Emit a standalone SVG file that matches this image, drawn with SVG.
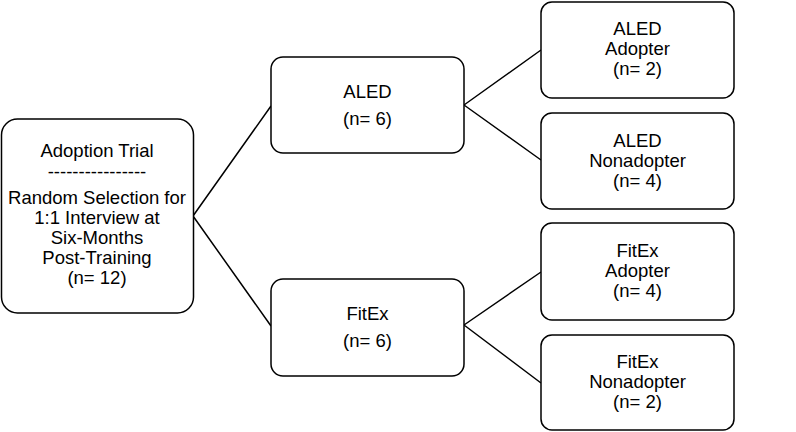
<svg xmlns="http://www.w3.org/2000/svg" width="796" height="432" viewBox="0 0 796 432">
<style>
.box{fill:#fff;stroke:#000;stroke-width:1.5}
.t{font-family:"Liberation Sans",Arial,sans-serif;font-size:18.5px;fill:#000;text-anchor:middle}
.c{fill:none;stroke:#000;stroke-width:1.5}
</style>
<rect width="796" height="432" fill="#fff"/>
<g id="connectors">
<path class="c" d="M193,216 L271,106 M193,216 L271,326"/>
<path class="c" d="M464,105 L541,50 M464,105 L541,160"/>
<path class="c" d="M464,325 L541,272 M464,325 L541,383"/>
</g>
<g id="root">
<rect class="box" x="1.5" y="119" width="192" height="194" rx="16"/>
<text class="t" x="97" y="157">Adoption Trial</text>
<text class="t" x="97" y="178">----------------</text>
<text class="t" x="97" y="204">Random Selection for</text>
<text class="t" x="97" y="224">1:1 Interview at</text>
<text class="t" x="97" y="244">Six-Months</text>
<text class="t" x="97" y="264">Post-Training</text>
<text class="t" x="97" y="284">(n= 12)</text>
</g>
<g id="aled">
<rect class="box" x="271" y="57" width="193" height="96" rx="12"/>
<text class="t" x="367.5" y="98">ALED</text>
<text class="t" x="367.5" y="125">(n= 6)</text>
</g>
<g id="fitex">
<rect class="box" x="271" y="279" width="193" height="97" rx="12"/>
<text class="t" x="367.5" y="320">FitEx</text>
<text class="t" x="367.5" y="347">(n= 6)</text>
</g>
<g id="aled-adopter">
<rect class="box" x="541" y="2" width="193" height="96" rx="11"/>
<text class="t" x="637.5" y="35">ALED</text>
<text class="t" x="637.5" y="55">Adopter</text>
<text class="t" x="637.5" y="75">(n= 2)</text>
</g>
<g id="aled-nonadopter">
<rect class="box" x="541" y="113" width="193" height="96" rx="11"/>
<text class="t" x="637.5" y="147">ALED</text>
<text class="t" x="637.5" y="167">Nonadopter</text>
<text class="t" x="637.5" y="187">(n= 4)</text>
</g>
<g id="fitex-adopter">
<rect class="box" x="541" y="223" width="193" height="97" rx="11"/>
<text class="t" x="637.5" y="257">FitEx</text>
<text class="t" x="637.5" y="277">Adopter</text>
<text class="t" x="637.5" y="297">(n= 4)</text>
</g>
<g id="fitex-nonadopter">
<rect class="box" x="541" y="335" width="193" height="95" rx="11"/>
<text class="t" x="637.5" y="368">FitEx</text>
<text class="t" x="637.5" y="388">Nonadopter</text>
<text class="t" x="637.5" y="408">(n= 2)</text>
</g>
</svg>
